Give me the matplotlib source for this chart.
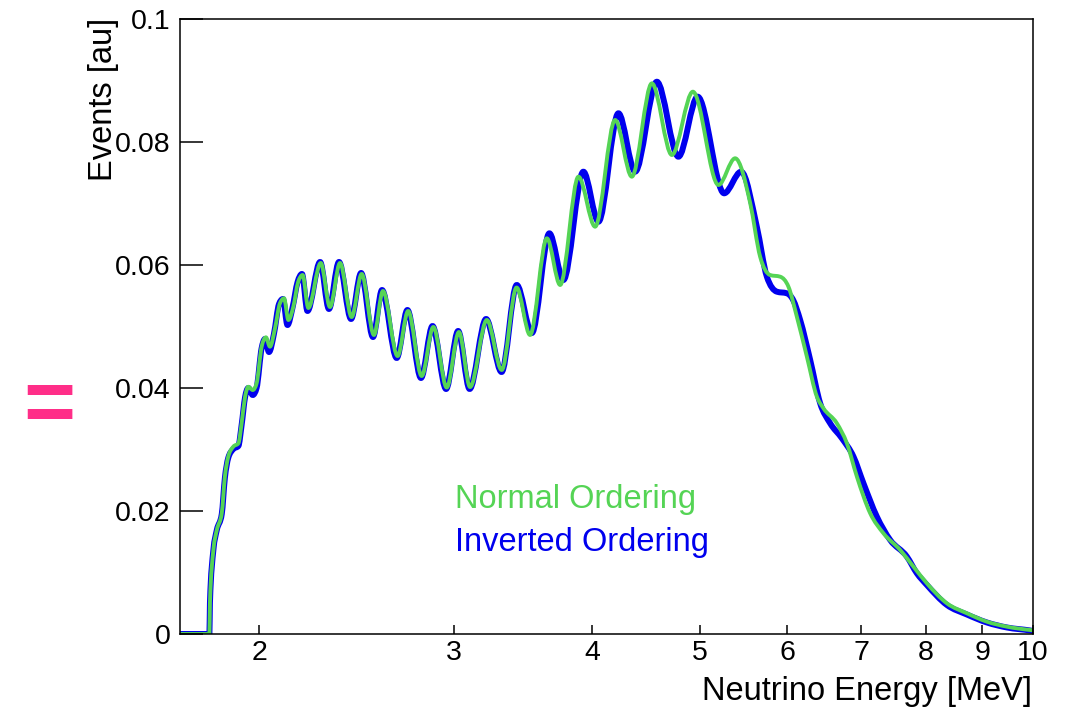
import matplotlib
matplotlib.use("Agg")
import matplotlib.pyplot as plt
import numpy as np
from matplotlib.path import Path
from matplotlib.patches import PathPatch

plt.rcParams["font.family"] = ["Liberation Sans", "DejaVu Sans"]

# values
green_energy = [1.70, 1.804, 1.806, 1.819, 1.832, 1.851, 1.863, 1.876, 1.896, 1.916,
                1.929, 1.943, 1.956, 1.974, 1.990, 2.011, 2.029, 2.046, 2.068, 2.089,
                2.107, 2.126, 2.148, 2.170, 2.190, 2.216, 2.274, 2.318, 2.367, 2.425,
                2.476, 2.540, 2.588, 2.668, 2.727, 2.805, 2.874, 2.955, 3.031, 3.102,
                3.212, 3.313, 3.417, 3.514, 3.639, 3.741, 3.886, 4.023, 4.194, 4.342,
                4.527, 4.719, 4.930, 5.199, 5.383, 5.554, 5.670, 5.789, 5.911, 6.014,
                6.120, 6.249, 6.380, 6.468, 6.651, 6.791, 6.934, 7.128, 7.328, 7.587,
                7.800, 8.020, 8.361, 8.716, 9.087, 9.473, 9.943, 10.0]
green_events = [0, 0, 0.00504, 0.01366, 0.0169, 0.01967, 0.02558, 0.02883, 0.03046, 0.0310,
                0.03426, 0.03859, 0.0402, 0.03967, 0.04076, 0.04672, 0.04824, 0.04672, 0.04976, 0.05377,
                0.05459, 0.05106, 0.05322, 0.05728, 0.05837, 0.05301, 0.06033, 0.05317, 0.06033, 0.05154,
                0.05854, 0.04862, 0.05577, 0.0452, 0.05252, 0.04195, 0.04992, 0.04008, 0.0491, 0.04016,
                0.05106, 0.04293, 0.05634, 0.04862, 0.06434, 0.05675, 0.07436, 0.06623, 0.08358, 0.07436,
                0.08954, 0.07789, 0.08818, 0.07301, 0.07735, 0.07008, 0.06135, 0.05837, 0.0581, 0.05647,
                0.05159, 0.04509, 0.03859, 0.0367, 0.03426, 0.031, 0.02558, 0.01963, 0.01637, 0.01366,
                0.01094, 0.00824, 0.00499, 0.00337, 0.0020, 0.00119, 0.00065, 0.0006]

blue_energy = [1.70, 1.804, 1.806, 1.819, 1.832, 1.851, 1.863, 1.876, 1.896, 1.916,
               1.929, 1.943, 1.956, 1.974, 1.990, 2.011, 2.025, 2.042, 2.063, 2.085,
               2.102, 2.122, 2.144, 2.167, 2.187, 2.212, 2.271, 2.313, 2.362, 2.422,
               2.473, 2.535, 2.583, 2.663, 2.723, 2.801, 2.869, 2.951, 3.026, 3.099,
               3.207, 3.312, 3.418, 3.527, 3.658, 3.766, 3.926, 4.051, 4.223, 4.372,
               4.574, 4.784, 4.979, 5.261, 5.450, 5.631, 5.750, 5.871, 5.994, 6.073,
               6.162, 6.292, 6.424, 6.559, 6.721, 6.885, 7.029, 7.228, 7.431, 7.694,
               7.855, 8.020, 8.361, 8.716, 9.087, 9.473, 9.943, 10.0]
blue_events = [0, 0, 0.00504, 0.01366, 0.0169, 0.01951, 0.02537, 0.02862, 0.03008, 0.03057,
               0.03398, 0.03854, 0.04, 0.03886, 0.04, 0.0465, 0.04797, 0.04585, 0.04878, 0.05366,
               0.05447, 0.05024, 0.05301, 0.05724, 0.05854, 0.05252, 0.06049, 0.05285, 0.06049, 0.05122,
               0.0587, 0.04829, 0.05593, 0.04488, 0.05268, 0.04163, 0.05008, 0.03984, 0.04927, 0.03984,
               0.05122, 0.0426, 0.05675, 0.04894, 0.06515, 0.05756, 0.07517, 0.06704, 0.08467, 0.07517,
               0.0898, 0.07761, 0.08737, 0.07166, 0.07517, 0.06623, 0.0581, 0.05566, 0.0554, 0.05431,
               0.05106, 0.04455, 0.03751, 0.03426, 0.03182, 0.02883, 0.0245, 0.01907, 0.01528, 0.01257,
               0.00987, 0.00797, 0.00472, 0.00317, 0.00187, 0.00106, 0.00057, 0.0005]

x_ticks = [2, 3, 4, 5, 6, 7, 8, 9, 10]
y_ticks = [0, 0.02, 0.04, 0.06, 0.08, 0.1]
y_tick_labels = ["0", "0.02", "0.04", "0.06", "0.08", "0.1"]


def smooth_path(energy, events):
    # monotone-x cubic segments (like d3 curveMonotoneX), built in log10(E)
    x = np.log10(np.asarray(energy, float))
    y = np.asarray(events, float)
    h = np.diff(x)
    s = np.diff(y) / h
    t = np.zeros_like(y)
    t[0], t[-1] = s[0], s[-1]
    for i in range(1, len(y) - 1):
        s0, s1 = s[i - 1], s[i]
        if s0 * s1 <= 0:
            continue
        p = (s0 * h[i] + s1 * h[i - 1]) / (h[i - 1] + h[i])
        t[i] = (np.sign(s0) + np.sign(s1)) * min(abs(s0), abs(s1), 0.5 * abs(p))
    verts = [(10 ** x[0], y[0])]
    codes = [Path.MOVETO]
    for i in range(len(h)):
        c1 = (x[i] + h[i] / 3, y[i] + t[i] * h[i] / 3)
        c2 = (x[i + 1] - h[i] / 3, y[i + 1] - t[i + 1] * h[i] / 3)
        verts += [(10 ** c1[0], c1[1]), (10 ** c2[0], c2[1]), (10 ** x[i + 1], y[i + 1])]
        codes += [Path.CURVE4] * 3
    return Path(verts, codes)


fig = plt.figure(figsize=(10.76, 7.09), dpi=100)
W, H = 1076, 709
ax = fig.add_axes([180 / W, (H - 634) / H, (1033 - 180) / W, (634 - 19) / H])
ax.set_xscale("log")
ax.set_xlim(1.697, 10)
ax.set_ylim(0, 0.1)

ax.add_patch(PathPatch(smooth_path(blue_energy, blue_events), fill=False,
                       edgecolor="#0000ee", lw=4.3, joinstyle="round", capstyle="round"))
ax.add_patch(PathPatch(smooth_path(green_energy, green_events), fill=False,
                       edgecolor="#55d455", lw=2.8, joinstyle="round", capstyle="round"))

ax.set_xticks(x_ticks)
ax.set_xticklabels([str(v) for v in x_ticks])
ax.xaxis.set_minor_locator(matplotlib.ticker.NullLocator())
ax.set_yticks(y_ticks)
ax.set_yticklabels(y_tick_labels)
ax.tick_params(axis="both", direction="in", labelsize=20.5, width=1.1, color="black")
ax.tick_params(axis="x", length=6.5, pad=4)
ax.tick_params(axis="y", length=16.5, pad=7)
for sp in ax.spines.values():
    sp.set_linewidth(1.1)

fig.text(1032 / W, 1 - 700 / H, "Neutrino Energy [MeV]", ha="right", va="baseline", fontsize=23.5)
fig.text(112 / W, 1 - 18 / H, "Events [au]", rotation=90, rotation_mode="anchor",
         ha="right", va="baseline", fontsize=23.5)

fig.text(455 / W, 1 - 508 / H, "Normal Ordering", color="#55d455", fontsize=23.5, va="baseline")
fig.text(455 / W, 1 - 551 / H, "Inverted Ordering", color="#0000ee", fontsize=23.5, va="baseline")

fig.text(49 / W, 1 - 409 / H, "=", color="#ff2e88", fontsize=64, fontweight="bold",
         ha="center", va="center")

fig.savefig("out.png", dpi=100)
